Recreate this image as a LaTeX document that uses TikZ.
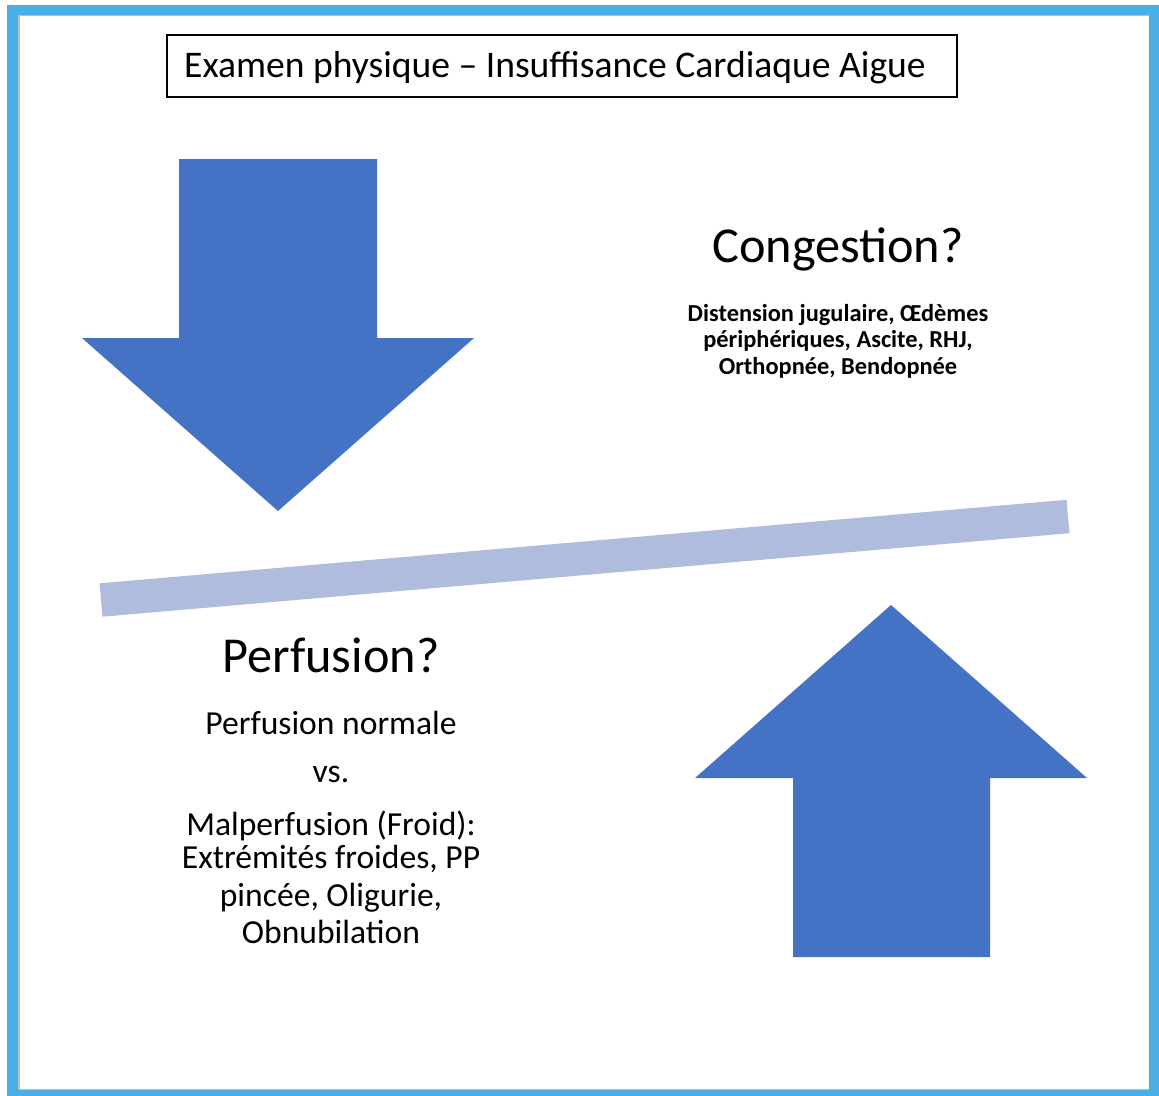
\documentclass[tikz,border=0pt]{standalone}
\usepackage{fontspec}
\setmainfont{Carlito}
\definecolor{frameblue}{HTML}{4AAEE8}
\definecolor{arrowblue}{HTML}{4472C4}
\definecolor{barblue}{HTML}{B0BCDD}
\begin{document}
\begin{tikzpicture}[x=1pt,y=-1pt,
  arrowshape/.style={fill=arrowblue,draw=none},
  txt/.style={inner sep=0pt,align=center,font=\fontsize{33.6}{38}\selectfont},
  head/.style={inner sep=0pt,font=\fontsize{50.3}{56}\selectfont},
  small/.style={inner sep=0pt,align=center,font=\fontsize{24.4}{26.5}\selectfont\bfseries}]
\useasboundingbox (0,0) rectangle (1159,1095);
% frame
\fill[frameblue] (7,5) rectangle (1159,1097);
\fill[black!25] (18,15) rectangle (1149,1090);
\fill[white] (20,16) rectangle (1149,1089);
% title
\node[draw=black,line width=2pt,minimum width=790,minimum height=62,inner sep=0pt] (title) at (562,66) {};
\node[inner sep=0pt,font=\fontsize{37.6}{40}\selectfont] (titletxt) at (555,68) {Examen physique -- Insuffisance Cardiaque Aigue};
% down arrow
\path[arrowshape] (179,159) -- (377,159) -- (377,338) -- (474,338) -- (278,511) -- (82,338) -- (179,338) -- cycle;
% up arrow
\path[arrowshape] (891,605) -- (1087,778) -- (990,778) -- (990,957) -- (793,957) -- (793,778) -- (695,778) -- cycle;
% bar
\coordinate (barL) at (101,600);
\coordinate (barR) at (1068,516.5);
\draw[barblue,line width=33.5] (barL) -- (barR);
% texts
\node[head] (cong) at (838,249) {Congestion?};
\node[small] (congtxt) at (838,341) {Distension jugulaire, Œdèmes\\ périphériques, Ascite, RHJ,\\ Orthopnée, Bendopnée};
\node[head] (perf) at (331,655) {Perfusion?};
\node[txt] (norm) at (331,723) {Perfusion normale};
\node[txt] (vs) at (331,774) {vs.};
\node[txt] (m1) at (331,826) {Malperfusion (Froid):};
\node[txt] (m2) at (331,859) {Extrémités froides, PP};
\node[txt] (m3) at (331,898) {pincée, Oligurie,};
\node[txt] (m4) at (331,932) {Obnubilation};
\end{tikzpicture}
\end{document}
